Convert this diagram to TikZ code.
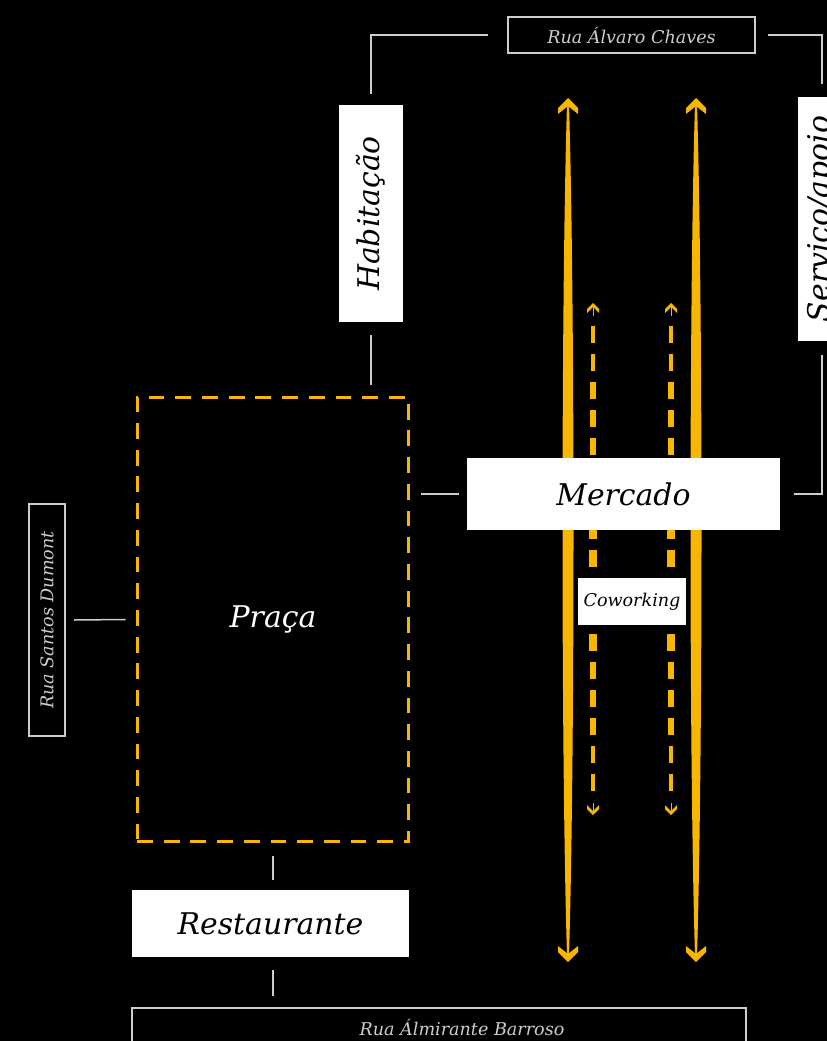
\documentclass[tikz,border=0pt]{standalone}
\usepackage{fontspec}
\setmainfont{DejaVu Serif}
\definecolor{mkyellow}{RGB}{247,182,0}
\definecolor{streetgray}{RGB}{205,205,205}
\usetikzlibrary{calc}

\begin{document}
\begin{tikzpicture}[
  x=0.02cm,y=-0.02cm,
  street/.style={draw=streetgray,line width=0.04cm,text=streetgray,inner sep=0pt,
    font=\itshape\fontsize{10}{12}\selectfont},
  block/.style={fill=white,text=black,inner sep=0pt,
    font=\itshape\fontsize{17}{20}\selectfont},
  zone/.style={draw=mkyellow,line width=0.06cm,dash pattern=on 9pt off 6.2pt,
    text=white,inner sep=0pt,font=\itshape\fontsize{17}{20}\selectfont},
  link/.style={draw=streetgray,line width=0.03cm},
  chevron/.style={fill=mkyellow}
]
  \fill[black] (0,0) rectangle (827,1041);
  \useasboundingbox (0,0) rectangle (827,1041);
  \clip (0,0) rectangle (827,1041);

  % Main flows
  \foreach \ax in {568,696}{
    \fill[mkyellow] (\ax-1,104) .. controls (\ax-7,300) and (\ax-7,760) .. (\ax-1,956)
      -- (\ax+1,956) .. controls (\ax+7,760) and (\ax+7,300) .. (\ax+1,104) -- cycle;
    \fill[chevron] (\ax,98) -- (\ax+10,108) -- (\ax+10,114) -- (\ax,106) -- (\ax-10,114) -- (\ax-10,108) -- cycle;
    \fill[chevron] (\ax,962) -- (\ax+10,952) -- (\ax+10,946) -- (\ax,954) -- (\ax-10,946) -- (\ax-10,952) -- cycle;
  }
  % Secondary flows
  \foreach \sx in {593,671}{
    \foreach \i in {0,...,16}{
      \pgfmathsetmacro\dy{326+28*\i}
      \pgfmathsetmacro\dw{0.75+3.5*sqrt(max(0,1-abs(\dy+8.5-559)/256))}
      \fill[mkyellow] (\sx-\dw,\dy) rectangle (\sx+\dw,\dy+17);
    }
    \fill[chevron] (\sx,303) -- (\sx+6,309) -- (\sx+6,313) -- (\sx,307) -- (\sx-6,313) -- (\sx-6,309) -- cycle;
    \draw[mkyellow,line width=0.02cm] (\sx,306) -- (\sx,316);
    \fill[chevron] (\sx,815) -- (\sx+6,809) -- (\sx+6,805) -- (\sx,811) -- (\sx-6,805) -- (\sx-6,809) -- cycle;
    \draw[mkyellow,line width=0.02cm] (\sx,803) -- (\sx,813);
  }

  % Streets
  \node[street,minimum width=4.94cm,minimum height=0.72cm] (alvaro) at (631.5,35) {Rua Álvaro Chaves};
  \node[street,rotate=90,minimum width=4.64cm,minimum height=0.72cm] (santos) at (47,620) {Rua Santos Dumont};
  \node[street,minimum width=12.28cm,minimum height=1.0cm] (barroso) at (439,1033) {};
  \node[text=streetgray,font=\itshape\fontsize{10}{12}\selectfont] (barrosolbl) at (462,1027) {Rua Álmirante Barroso};

  % Uses
  \node[block,rotate=90,minimum width=4.34cm,minimum height=1.28cm] (habitacao) at (371,213.5) {Habitação};
  \node[block,rotate=90,minimum width=4.88cm,minimum height=0.96cm] (servico) at (822,219) {Serviço/apoio};
  \node[block,minimum width=6.26cm,minimum height=1.44cm] (mercado) at (623.5,494) {Mercado};
  \node[block,font=\itshape\fontsize{10}{12}\selectfont,minimum width=2.16cm,minimum height=0.94cm] (coworking) at (632,601.5) {Coworking};
  \node[zone,minimum width=5.44cm,minimum height=8.9cm] (praca) at (273,619.5) {Praça};
  \node[block,minimum width=5.54cm,minimum height=1.34cm] (restaurante) at (270.5,923.5) {Restaurante};

  % Links
  \draw[link] ($(alvaro.west)+(-19,0)$) -| ($(habitacao.east)+(0,-11)$);
  \draw[link] ($(alvaro.east)+(12,0)$) -| ($(servico.east)+(0,-13)$);
  \draw[link] ($(servico.west)+(0,14)$) |- ($(mercado.east)+(14,0)$);
  \draw[link] ($(habitacao.west)+(0,13)$) -- ($(habitacao.west |- praca.north)+(0,-11)$);
  \draw[link] ($(mercado.west)+(-8,0)$) -- ($(praca.east |- mercado.west)+(11,0)$);
  \draw[link] ($(santos.south)+(8,0)$) -- ($(praca.west)+(-10,0)$);
  \draw[link] ($(praca.south)+(0,13)$) -- ($(praca.south |- restaurante.north)+(0,-10)$);
  \draw[link] ($(praca.south |- restaurante.south)+(0,13)$) -- ($(praca.south |- barroso.north)+(0,-11)$);
\end{tikzpicture}
\end{document}
